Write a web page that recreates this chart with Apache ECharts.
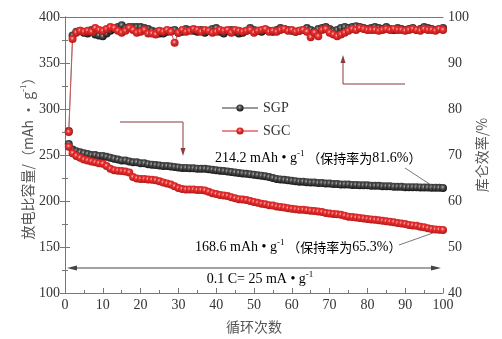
<!DOCTYPE html>
<html><head><meta charset="utf-8">
<script src="https://cdn.jsdelivr.net/npm/echarts@6/dist/echarts.min.js"></script>
<style>html,body{margin:0;padding:0;background:#fff}#c{width:502px;height:339px}</style>
</head><body><div id="c"></div>
<script>
const cycles = Array.from({length:100},(_,i)=>i+1);
const xTicks = [0,10,20,30,40,50,60,70,80,90,100];
const sgpCapacity = [262,256,254,253,252,251,250,250,249,249,248,247,246,245,244,244,243,242,242,241,
241,240,239.5,239,238.5,238,238,237.5,237,236.5,236,236,235.5,235.5,235,235,235,234.5,234,233.5,
233,232.5,232,231.5,231,230.5,230,229.5,229,228.5,228,227.5,227,226,225,224,223.5,223,222.5,222,
221.5,221,221,220.5,220,220,219.5,219.5,219,219,218.5,218.5,218,218,218,217.5,217.5,217,217,217,
216.5,216.5,216.5,216,216,216,215.5,215.5,215.5,215,215,215,215,214.8,214.7,214.6,214.5,214.4,214.3,214.2];
const sgcCapacity = [259,252,249,247,245,244,243,242,241,240.5,238,235,233.5,233,232.5,232,231,226,224.5,224,
224,223.5,223,222.5,221.5,220,219,218,216,214,213,212.5,212.5,212.5,212,212,211.5,210,208.5,207.5,
206.5,206,205.5,204,203,202,201.5,201,200,199,198,197,196.5,195.5,195,194,193.5,193,192,191.5,
191,190.5,190.5,190,189.5,189,188.5,188,187,186.5,186,185.5,185,184,183,182.5,182,181.5,181,180.5,
180,179.5,179,178.5,178,177.5,177,176,175.5,175,174,173.5,173,172,171.5,170.5,169.5,169,168.8,168.6];
const sgpEfficiency = [75.2,96,96.8,97,96.6,96.4,97.2,96.2,96,95.8,96.4,97,97.4,97.8,98.2,97.6,97.8,97.8,97.8,97.8,
97.6,97.4,97,96.8,96.4,96.4,96.8,97,97.2,96.6,96.8,97.4,97.2,97,96.8,97.2,96.6,97,97.4,97.6,
96.8,96.4,97,97.2,96.8,96.4,96.6,97,97.6,97.2,97,96.8,97.2,97,96.8,97.2,97.6,97.4,97.2,97,
96.8,97,97.2,97.6,97.2,96.8,97.4,97.6,97.8,97.4,97,97.2,97.6,97.8,97.6,97.8,98,97.8,97.6,97.4,
97.6,97.8,97.6,97.4,97.8,97.4,97.2,97.6,97.4,97.2,97.4,97.6,97.2,97.4,97.8,97.6,97.4,97.2,97.4,97.6];
const sgcEfficiency = [75,95.2,96.6,97,96.8,97,96.8,97.6,97.2,97,97.4,97.8,97.6,97,96.6,97,97.6,97.2,96.6,96.8,
97.2,96.4,96.4,96.2,97,96.8,97.2,96.8,94.4,96.6,97.2,96.8,97,97.4,97.2,96.8,97.2,97,96.6,96.8,
97.2,97,97.2,96.6,97.2,97,96.8,97,97.2,96.6,97,97.2,97.4,96.8,97,96.8,97.2,97.4,97,97.2,
96.8,97,97.2,96.8,95.6,96.6,95.8,97.2,97.4,96.6,96.2,95.8,96.2,96.6,97,97.4,97.2,97.6,97.4,97.2,
97.2,97.2,97,97.2,97.4,97.2,97.4,97.2,97.2,97,97.2,97.4,97.2,97,97.4,97.2,97.2,97,97.4,97.2];

const SERIF = 'Liberation Serif';
const CJK = 'Noto Sans CJK SC';
const blackBall = {type:'radial',x:0.45,y:0.4,r:0.6,colorStops:[{offset:0,color:'#b8b8b8'},{offset:0.35,color:'#555'},{offset:1,color:'#111'}]};
const redBall = {type:'radial',x:0.45,y:0.4,r:0.6,colorStops:[{offset:0,color:'#ffc0c0'},{offset:0.35,color:'#ee3333'},{offset:1,color:'#b01515'}]};

function pairs(arr){return arr.map((v,i)=>[cycles[i],v]);}
const rich = {
  n:{fontFamily:SERIF,fontSize:14,color:'#333'},
  s:{fontFamily:SERIF,fontSize:9,color:'#333',verticalAlign:'top',padding:[0,0,8,0]},
  c:{fontFamily:CJK,fontSize:13,color:'#333'}
};
const chart = echarts.init(document.getElementById('c'));
const axisLbl = {fontFamily:SERIF,fontSize:14,color:'#333'};
const axisLine = {show:true,lineStyle:{color:'#777',width:1}};
function mkSeries(name,data,ball,lineColor,yIdx,z){
  return {name,type:'line',data:pairs(data),yAxisIndex:yIdx,symbol:'circle',symbolSize:8,
    showSymbol:true,animation:false,z,
    lineStyle:{color:lineColor,width:1},itemStyle:{color:ball,borderWidth:0}};
}
chart.setOption({
  animation:false,
  grid:{left:65,right:59,top:17,bottom:42},
  legend:{data:['SGP','SGC'],orient:'vertical',left:216,top:96,itemWidth:36,itemHeight:9,itemGap:9,
    textStyle:{fontFamily:SERIF,fontSize:14,color:'#333'}},
  xAxis:[{type:'value',min:0,max:100,interval:10,
    name:'循环次数',nameLocation:'middle',nameGap:27,nameMoveOverlap:false,nameTextStyle:{fontFamily:CJK,fontSize:14,color:'#555'},
    axisLine,axisTick:{inside:true,length:5,lineStyle:{color:'#777'}},
    minorTick:{show:true,splitNumber:2,length:3,lineStyle:{color:'#777'}},
    axisLabel:{...axisLbl,margin:5,customValues:xTicks},splitLine:{show:false}},
   {type:'value',position:'top',min:0,max:100,axisLine,axisTick:{show:false},axisLabel:{show:false},splitLine:{show:false}}],
  yAxis:[{type:'value',min:100,max:400,interval:50,
    name:'{c|放电比容量/（mAh • g}{s|-1}{c|）}',nameLocation:'middle',nameRotate:90,nameGap:29,nameMoveOverlap:false,
    nameTextStyle:{rich:{c:{fontFamily:CJK,fontSize:14,color:'#555'},s:{fontFamily:SERIF,fontSize:9,color:'#555',padding:[0,0,8,0]}}},
    axisLine,axisTick:{inside:true,length:5,lineStyle:{color:'#777'}},
    minorTick:{show:true,splitNumber:2,length:3,lineStyle:{color:'#777'}},
    axisLabel:{...axisLbl,margin:5},splitLine:{show:false}},
   {type:'value',min:40,max:100,interval:10,position:'right',
    name:'库仑效率/%',nameLocation:'middle',nameRotate:90,nameGap:32,nameMoveOverlap:false,
    nameTextStyle:{fontFamily:CJK,fontSize:14,color:'#555'},
    axisLine,axisTick:{inside:true,length:5,lineStyle:{color:'#777'}},
    minorTick:{show:true,splitNumber:2,length:3,lineStyle:{color:'#777'}},
    axisLabel:{...axisLbl,margin:5},splitLine:{show:false}}],
  series:[
    mkSeries('SGP',sgpCapacity,blackBall,'#999',0,3),
    mkSeries('SGC',sgcCapacity,redBall,'#e88',0,4),
    mkSeries('SGP',sgpEfficiency,blackBall,'#999',1,3),
    mkSeries('SGC',sgcEfficiency,redBall,'#c55',1,4)
  ],
  graphic:[
    {type:'polyline',shape:{points:[[120,122],[183,122],[183,150]]},style:{stroke:'#8a3b3b',lineWidth:1,fill:null},z:10},
    {type:'polygon',shape:{points:[[180.5,148],[185.5,148],[183,156]]},style:{fill:'#8a3b3b'},z:10},
    {type:'polyline',shape:{points:[[405,84],[343,84],[343,62]]},style:{stroke:'#8a3b3b',lineWidth:1,fill:null},z:10},
    {type:'polygon',shape:{points:[[340.5,63],[345.5,63],[343,55]]},style:{fill:'#8a3b3b'},z:10},
    {type:'line',shape:{x1:72,y1:268,x2:436,y2:268},style:{stroke:'#444',lineWidth:1},z:10},
    {type:'polygon',shape:{points:[[67,268],[77,265.5],[77,270.5]]},style:{fill:'#444'},z:10},
    {type:'polygon',shape:{points:[[441,268],[431,265.5],[431,270.5]]},style:{fill:'#444'},z:10},
    {type:'text',x:260,y:279,style:{text:'{n|0.1 C= 25 mA • g}{s|-1}',rich,align:'center',verticalAlign:'middle'},z:10},
    {type:'text',x:215,y:158,style:{text:'{n|214.2 mAh • g}{s|-1}{c| （保持率为}{n|81.6%}{c|）}',rich,align:'left',verticalAlign:'middle'},z:10},
    {type:'text',x:195,y:247,style:{text:'{n|168.6 mAh • g}{s|-1}{c| （保持率为}{n|65.3%}{c|）}',rich,align:'left',verticalAlign:'middle'},z:10},
    {type:'line',shape:{x1:405,y1:168,x2:434,y2:187},style:{stroke:'#555',lineWidth:0.8},z:10},
    {type:'line',shape:{x1:399,y1:245,x2:433,y2:233},style:{stroke:'#555',lineWidth:0.8},z:10}
  ]
});
</script></body></html>
